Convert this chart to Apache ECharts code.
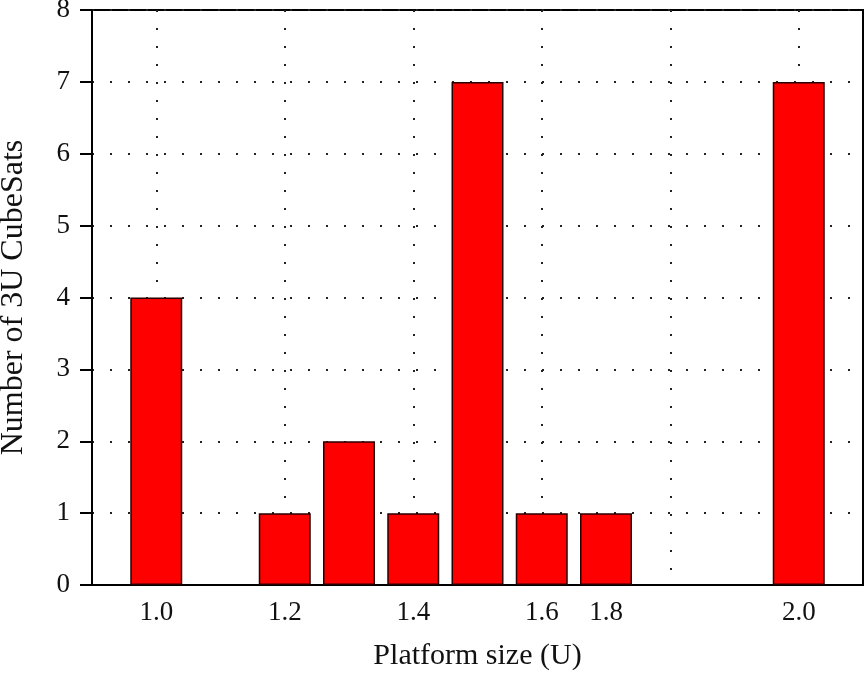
<!DOCTYPE html>
<html>
<head>
<meta charset="utf-8">
<script src="https://cdn.jsdelivr.net/npm/echarts@6/dist/echarts.min.js"></script>
<style>
html,body{margin:0;padding:0;background:#fff;}
#chart{width:865px;height:673px;}
</style>
</head>
<body>
<div id="chart"></div>
<script>
// Platform size slots (0.1 U steps along the axis)
var categories = ['0.9','1.0','1.1','1.2','1.3','1.4','1.5','1.6','1.7','1.8','1.9','2.0','2.1'];
// Number of 3U CubeSats per slot ('-' = no bar)
var counts = ['-', 4, '-', 1, 2, 1, 7, 1, 1, '-', '-', 7, '-'];
// Tick labels as printed in the reference (the label at slot 1.7 reads "1.8")
var labelSlots = ['1.0','1.2','1.4','1.6','1.7','2.0'];
var labelTexts = ['1.0','1.2','1.4','1.6','1.8','2.0'];
// Vertical dotted grid lines
var gridSlots = ['1.0','1.2','1.4','1.6','1.8','2.0'];
var yTicks = [0,1,2,3,4,5,6,7,8];

var chart = echarts.init(document.getElementById('chart'));
var font = 'Liberation Serif';
chart.setOption({
  animation: false,
  backgroundColor: '#fff',
  grid: {left: 92, right: 2, top: 10, bottom: 88, show: true, borderColor: '#000', borderWidth: 2,
         containLabel: false, outerBoundsMode: 'none'},
  xAxis: {
    type: 'category',
    data: categories,
    boundaryGap: false,
    name: 'Platform size (U)',
    nameLocation: 'middle',
    nameGap: 56,
    nameTextStyle: {fontFamily: font, fontSize: 30, color: '#111'},
    axisLine: {show: true, lineStyle: {color: '#000', width: 2}},
    axisTick: {show: false},
    axisLabel: {
      interval: function (i, v) { return labelSlots.indexOf(v) >= 0; },
      formatter: function (v) { var k = labelSlots.indexOf(v); return k >= 0 ? labelTexts[k] : ''; },
      fontFamily: font, fontSize: 27, color: '#111', margin: 14
    },
    splitLine: {
      show: true,
      interval: function (i, v) { return gridSlots.indexOf(v) >= 0; },
      lineStyle: {color: '#222', width: 2, type: [2, 16]}
    }
  },
  yAxis: {
    type: 'value',
    min: yTicks[0], max: yTicks[yTicks.length - 1], interval: 1,
    name: 'Number of 3U CubeSats',
    nameLocation: 'middle',
    nameGap: 62,
    nameTextStyle: {fontFamily: font, fontSize: 32, color: '#111'},
    axisLine: {show: true, lineStyle: {color: '#000', width: 2}},
    axisTick: {show: true, inside: false, length: 12, lineStyle: {color: '#000', width: 2}},
    axisLabel: {fontFamily: font, fontSize: 27, color: '#111', margin: 22},
    splitLine: {show: true, lineStyle: {color: '#222', width: 2, type: [2, 16]}}
  },
  series: [{
    type: 'bar',
    data: counts,
    barWidth: 52,
    itemStyle: {color: '#ff0000', borderColor: '#2a0000', borderWidth: 1.5}
  }]
});
</script>
</body>
</html>
